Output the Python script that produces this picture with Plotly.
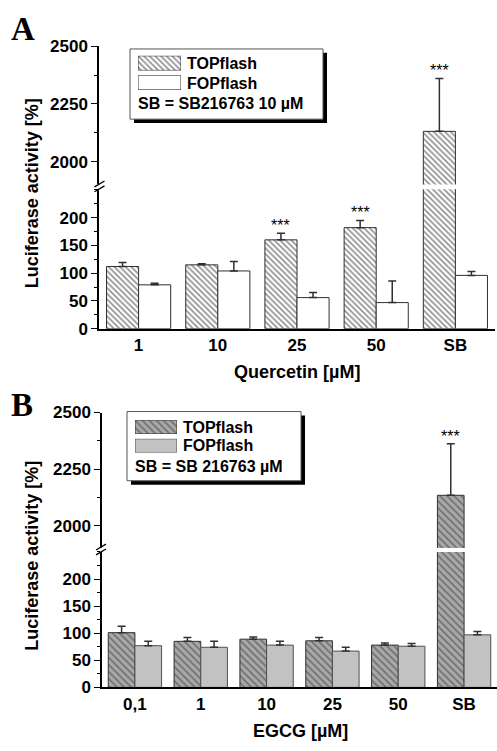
import plotly.graph_objects as go

# ---------------- data ----------------
cats_A = ["1", "10", "25", "50", "SB"]
top_A = [112, 115, 160, 182, 2132]
top_A_err = [7, 2, 12, 13, 228]
fop_A = [79, 104, 56, 47, 96]
fop_A_err = [3, 17, 9, 39, 7]
sig_A = ["", "", "***", "***", "***"]

cats_B = ["0,1", "1", "10", "25", "50", "SB"]
top_B = [101, 85, 89, 86, 78, 2134]
top_B_err = [12, 7, 4, 6, 4, 228]
fop_B = [77, 74, 78, 67, 76, 97]
fop_B_err = [8, 11, 7, 7, 5, 6]
sig_B = ["", "", "", "", "", "***"]

W, H = 497, 751
FONT = "Liberation Sans, Arial, sans-serif"
DARK = "#303030"


def px(x):
    return x / W


def py(y):
    return 1 - y / H


top_style_A = dict(color="white", line=dict(color=DARK, width=1),
                   pattern=dict(shape="\\", size=4, solidity=0.42, fgcolor="#222222", bgcolor="white"))
fop_style_A = dict(color="white", line=dict(color=DARK, width=1))
top_style_B = dict(color="#a8a8a8", line=dict(color=DARK, width=1),
                   pattern=dict(shape="\\", size=5, solidity=0.32, fgcolor="#333333", bgcolor="#a8a8a8"))
fop_style_B = dict(color="#c2c2c2", line=dict(color="#505050", width=1))


def err(arr):
    return dict(type="data", array=arr, arrayminus=[0] * len(arr), symmetric=False,
                color=DARK, thickness=1.5, width=4)


fig = go.Figure()

# panel A: lower (x,y) and upper (x,y2)
for ya in ["y", "y2"]:
    fig.add_trace(go.Bar(x=cats_A, y=top_A, marker=top_style_A, error_y=err(top_A_err),
                         xaxis="x", yaxis=ya, showlegend=False))
    fig.add_trace(go.Bar(x=cats_A, y=fop_A, marker=fop_style_A, error_y=err(fop_A_err),
                         xaxis="x", yaxis=ya, showlegend=False))
# panel B: lower (x3,y3) and upper (x3,y4)
for ya in ["y3", "y4"]:
    fig.add_trace(go.Bar(x=cats_B, y=top_B, marker=top_style_B, error_y=err(top_B_err),
                         xaxis="x3", yaxis=ya, showlegend=False))
    fig.add_trace(go.Bar(x=cats_B, y=fop_B, marker=fop_style_B, error_y=err(fop_B_err),
                         xaxis="x3", yaxis=ya, showlegend=False))

# legend swatches as tiny bar subplots
swatches = [
    ("x5", "y5", top_style_A, (138, 181, 48, 63)),
    ("x6", "y6", fop_style_A, (138, 181, 68, 83)),
    ("x7", "y7", top_style_B, (135, 177, 422, 436)),
    ("x8", "y8", fop_style_B, (135, 177, 441, 455)),
]
for xa, ya, style, (x0, x1, y0, y1) in swatches:
    fig.add_trace(go.Bar(x=[0], y=[1], width=[1], marker=style, xaxis=xa, yaxis=ya,
                         showlegend=False, hoverinfo="skip"))
    n = xa[1:]
    fig.layout["xaxis" + n] = dict(domain=[px(x0), px(x1)], range=[-0.5, 0.5], visible=False,
                                   anchor="y" + n, fixedrange=True)
    fig.layout["yaxis" + n] = dict(domain=[py(y1), py(y0)], range=[0, 1], visible=False,
                                   anchor="x" + n, fixedrange=True)

tickfont = dict(family=FONT, size=17, color="black", weight="bold")
yax_common = dict(showline=True, linecolor="black", linewidth=1.5, ticks="outside", ticklen=6,
                  tickwidth=1.3, tickcolor="black", showgrid=False, zeroline=False,
                  tickfont=tickfont, fixedrange=True)

fig.update_layout(
    width=W, height=H, autosize=False,
    margin=dict(l=0, r=0, t=0, b=0),
    paper_bgcolor="white", plot_bgcolor="rgba(0,0,0,0)",
    barmode="group", bargap=0.19, bargroupgap=0,
    xaxis=dict(domain=[px(99), px(495)], range=[-0.5, 4.5], anchor="y", showline=True,
               linecolor="black", linewidth=1.5, ticks="", tickfont=tickfont, showgrid=False,
               type="category", fixedrange=True),
    yaxis=dict(domain=[py(328), py(185)], range=[0, 251], anchor="x", tickvals=[0, 50, 100, 150, 200],
               minor=dict(dtick=25, ticklen=3, ticks="outside", tickcolor="black", tick0=0),
               **yax_common),
    yaxis2=dict(domain=[py(180), py(38)], range=[1903, 2500], anchor="x", tickvals=[2000, 2250, 2500],
                minor=dict(dtick=125, ticklen=3, ticks="outside", tickcolor="black", tick0=2000),
                **yax_common),
    xaxis3=dict(domain=[px(102), px(497)], range=[-0.5, 5.5], anchor="y3", showline=True,
                linecolor="black", linewidth=1.5, ticks="", tickfont=tickfont, showgrid=False,
                type="category", fixedrange=True),
    yaxis3=dict(domain=[py(696), py(557)], range=[0, 250], anchor="x3", tickvals=[0, 50, 100, 150, 200],
                minor=dict(dtick=25, ticklen=3, ticks="outside", tickcolor="black", tick0=0),
                **yax_common),
    yaxis4=dict(domain=[py(553), py(414)], range=[1901, 2500], anchor="x3", tickvals=[2000, 2250, 2500],
                minor=dict(dtick=125, ticklen=3, ticks="outside", tickcolor="black", tick0=2000),
                **yax_common),
)

shapes = []
# legend boxes with shadows
for (x0, y0, x1, y1) in [(130, 41, 323, 113), (127, 413, 301, 484)]:
    shapes.append(dict(type="rect", xref="paper", yref="paper", x0=px(x0 + 4), x1=px(x1 + 4),
                       y0=py(y1 + 4), y1=py(y0 + 4), fillcolor="black", line=dict(width=0),
                       layer="below"))
    shapes.append(dict(type="rect", xref="paper", yref="paper", x0=px(x0), x1=px(x1),
                       y0=py(y1), y1=py(y0), fillcolor="white", line=dict(color="#555555", width=1),
                       layer="below"))
# axis break marks
for (ax, yb) in [(99.5, 182.5), (101, 555)]:
    for dy in (-3, 2):
        shapes.append(dict(type="line", xref="paper", yref="paper",
                           x0=px(ax - 5), x1=px(ax + 5), y0=py(yb + dy + 3), y1=py(yb + dy - 3),
                           line=dict(color="black", width=1.3)))
fig.update_layout(shapes=shapes)

ann = []
# significance stars (centred over the TOPflash bar: 0.2025 of a category left of centre)
shiftA = -0.2025 * (495 - 99) / 5
shiftB = -0.2025 * (497 - 102) / 6
starfont = dict(family=FONT, size=16, color="black")
for i, (v, e, s) in enumerate(zip(top_A, top_A_err, sig_A)):
    if s:
        ya = "y2" if v > 251 else "y"
        ann.append(dict(x=i, y=v + e, xref="x", yref=ya, text=s, showarrow=False, yanchor="bottom",
                        xanchor="center", xshift=shiftA, yshift=-3, font=starfont))
for i, (v, e, s) in enumerate(zip(top_B, top_B_err, sig_B)):
    if s:
        ya = "y4" if v > 250 else "y3"
        ann.append(dict(x=i, y=v + e, xref="x3", yref=ya, text=s, showarrow=False, yanchor="bottom",
                        xanchor="center", xshift=shiftB, yshift=-3, font=starfont))

titlefont = dict(family=FONT, size=18, color="black")
legfont = dict(family=FONT, size=16, color="black")
serif = dict(family="Liberation Serif, Times New Roman, serif", size=33, color="black")


def label(x, y, text, font, xanchor="center", angle=0):
    return dict(x=px(x), y=py(y), xref="paper", yref="paper", text=text, showarrow=False,
                xanchor=xanchor, yanchor="middle", textangle=angle, font=font)


ann += [
    label(297, 372, "<b>Quercetin [µM]</b>", titlefont),
    label(300, 741, "<b>EGCG [µM]</b>", titlefont),
    label(32, 189, "<b>Luciferase activity [%]</b>", titlefont, angle=-90),
    label(32, 561, "<b>Luciferase activity [%]</b>", titlefont, angle=-90),
    label(23, 21, "<b>A</b>", serif),
    label(22, 406, "<b>B</b>", serif),
    label(185, 56, "<b>TOPflash</b>", legfont, "left"),
    label(185, 76, "<b>FOPflash</b>", legfont, "left"),
    label(136, 97, "<b>SB = SB216763 10 µM</b>", legfont, "left"),
    label(181, 429, "<b>TOPflash</b>", legfont, "left"),
    label(181, 448, "<b>FOPflash</b>", legfont, "left"),
    label(133, 469, "<b>SB = SB 216763 µM</b>", legfont, "left"),
]
fig.update_layout(annotations=ann)

fig.write_html("out.html")
